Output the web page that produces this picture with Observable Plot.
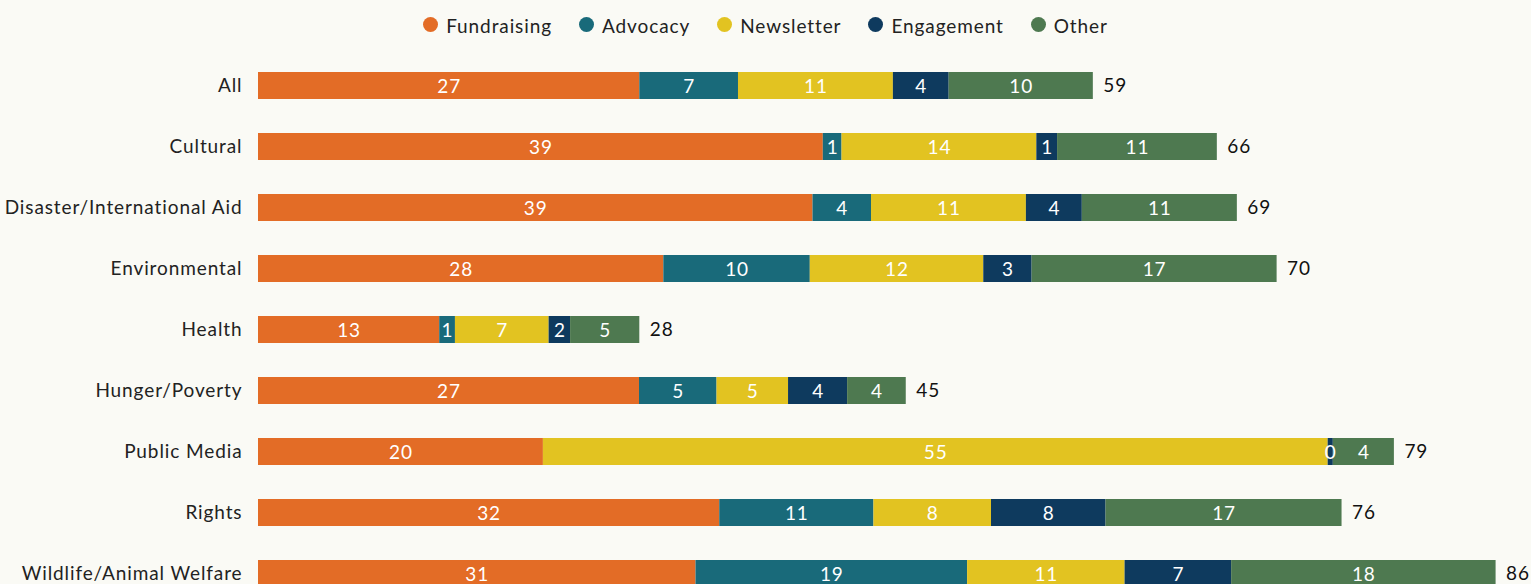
<!DOCTYPE html>
<html>
<head>
<meta charset="utf-8">
<script src="https://cdn.jsdelivr.net/npm/d3@7"></script>
<script src="https://cdn.jsdelivr.net/npm/@observablehq/plot@0.6"></script>
<style>
  html, body { margin: 0; padding: 0; background: #FAFAF5; overflow: hidden; }
  body { width: 1531px; height: 584px; font-family: Lato, "Open Sans", sans-serif; }
  #legend { height: 50px; display: flex; justify-content: center; align-items: center; gap: 27px; font-size: 19px; color: #222; letter-spacing: 0.9px; }
  #legend .item { display: flex; align-items: center; gap: 8px; }
  #legend .dot { width: 15px; height: 15px; border-radius: 50%; display: inline-block; margin-top: -2px; }
  #chart svg { display: block; }
  #chart svg text { letter-spacing: 0.9px; }
</style>
</head>
<body>
<div id="legend"></div>
<div id="chart"></div>
<script>
const categories = ["All", "Cultural", "Disaster/International Aid", "Environmental", "Health", "Hunger/Poverty", "Public Media", "Rights", "Wildlife/Animal Welfare"];
const seriesNames = ["Fundraising", "Advocacy", "Newsletter", "Engagement", "Other"];
const seriesColors = ["#E36C26", "#196A7A", "#E2C321", "#0E3A5E", "#4E7950"];
const fundraising = [26.66, 39.49, 38.77, 28.34, 12.67, 26.64, 19.92, 32.25, 30.59];
const advocacy    = [6.90, 1.31, 4.09, 10.24, 1.10, 5.42, 0, 10.78, 18.99];
const newsletter  = [10.83, 13.62, 10.83, 12.13, 6.55, 5.00, 54.87, 8.22, 11.01];
const engagement  = [3.90, 1.45, 3.91, 3.38, 1.50, 4.13, 0.36, 8.01, 7.45];
const other       = [10.08, 11.17, 10.84, 17.13, 4.84, 4.10, 4.27, 16.50, 18.49];
const totals      = [59, 66, 69, 70, 28, 45, 79, 76, 86];

const seriesValues = [fundraising, advocacy, newsletter, engagement, other];
const data = [];
categories.forEach((c, i) => {
  seriesNames.forEach((s, j) => {
    data.push({cat: c, series: s, value: seriesValues[j][i]});
  });
});
const totalData = categories.map((c, i) => ({
  cat: c,
  end: d3.sum(seriesValues, arr => arr[i]),
  label: totals[i]
}));

// legend
const legend = document.getElementById("legend");
seriesNames.forEach((s, j) => {
  const item = document.createElement("span");
  item.className = "item";
  const dot = document.createElement("span");
  dot.className = "dot";
  dot.style.background = seriesColors[j];
  const t = document.createElement("span");
  t.textContent = s;
  item.appendChild(dot);
  item.appendChild(t);
  legend.appendChild(item);
});

const chart = Plot.plot({
  width: 1531,
  height: 549,
  marginLeft: 258,
  marginRight: 43,
  marginTop: 22,
  marginBottom: 10,
  style: {background: "#FAFAF5", fontFamily: "Lato, 'Open Sans', sans-serif", fontSize: "19px", color: "#222"},
  x: {domain: [0, 86], axis: null},
  y: {domain: categories, paddingInner: 0.565, paddingOuter: 0, align: 0, label: null},
  color: {domain: seriesNames, range: seriesColors},
  marks: [
    Plot.barX(data, Plot.stackX({x: "value", y: "cat", z: "series", fill: "series", order: seriesNames})),
    Plot.text(data, Plot.stackX({
      x: "value", y: "cat", z: "series", order: seriesNames,
      text: d => d.value > 0 ? String(Math.round(d.value)) : "",
      fill: "white", fontSize: 19, dy: 1
    })),
    Plot.text(totalData, {x: "end", y: "cat", text: "label", textAnchor: "start", dx: 10, fill: "#111", fontSize: 19}),
    Plot.axisY({tickSize: 0, tickPadding: 16, fontSize: 19, label: null, color: "#222"})
  ]
});
document.getElementById("chart").appendChild(chart);
</script>
</body>
</html>
